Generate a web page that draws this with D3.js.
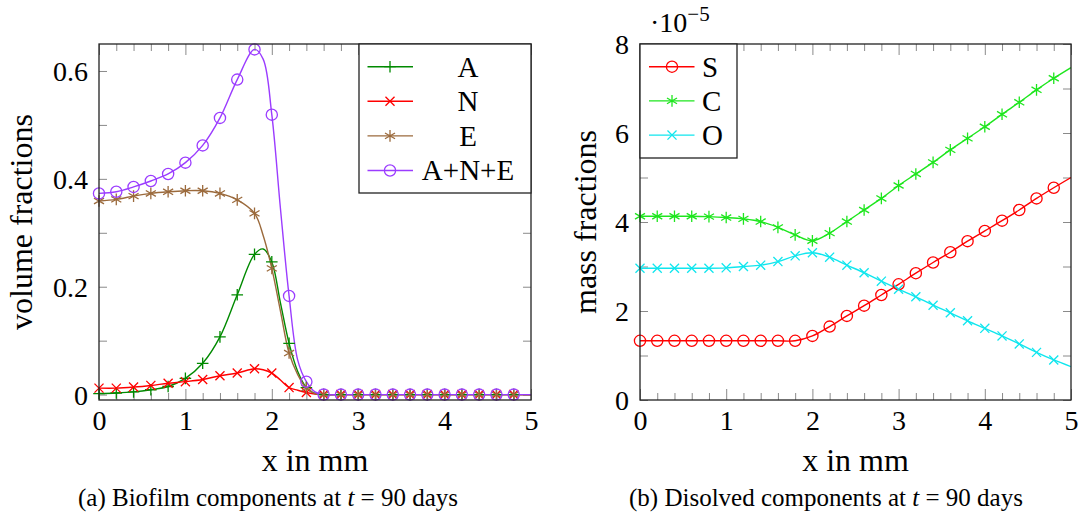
<!DOCTYPE html>
<html><head><meta charset="utf-8">
<script src="https://cdn.jsdelivr.net/npm/d3@7"></script>
<style>
body{margin:0;background:#fff}
text{font-family:"Liberation Serif","Times New Roman",serif;fill:#000}
</style>
</head><body>
<svg id="c" width="1081" height="520"></svg>
<script>
// ---------- data: (a) biofilm components ----------
const xLeft   = [0,0.2,0.4,0.6,0.8,1.0,1.2,1.4,1.6,1.8,1.9,2.0,2.1,2.2,2.3,2.4,2.5,2.6,2.8,3.0,3.2,3.4,3.6,3.8,4.0,4.2,4.4,4.6,4.8,5.0];
const valuesA = [0.002,0.003,0.005,0.009,0.015,0.030,0.058,0.107,0.185,0.260,0.270,0.246,0.170,0.095,0.043,0.013,0.002,0,0,0,0,0,0,0,0,0,0,0,0,0];
const valuesN = [0.012,0.012,0.014,0.017,0.021,0.024,0.028,0.035,0.040,0.048,0.046,0.040,0.027,0.013,0.008,0.004,0.001,0,0,0,0,0,0,0,0,0,0,0,0,0];
const valuesE = [0.359,0.362,0.368,0.373,0.376,0.378,0.378,0.373,0.361,0.336,0.295,0.234,0.155,0.077,0.037,0.012,0.002,0,0,0,0,0,0,0,0,0,0,0,0,0];
const valuesANE = [0.373,0.376,0.385,0.396,0.409,0.430,0.462,0.513,0.584,0.640,0.622,0.519,0.345,0.183,0.064,0.024,0.005,0,0,0,0,0,0,0,0,0,0,0,0,0];
const namesLeft = ["A","N","E","A+N+E"];

// ---------- data: (b) dissolved components (units of 1e-5) ----------
const xRight  = [0,0.2,0.4,0.6,0.8,1.0,1.2,1.4,1.6,1.8,2.0,2.2,2.4,2.6,2.8,3.0,3.2,3.4,3.6,3.8,4.0,4.2,4.4,4.6,4.8,5.0];
const valuesS = [1.33,1.33,1.33,1.33,1.33,1.33,1.33,1.33,1.33,1.33,1.44,1.65,1.89,2.12,2.36,2.60,2.85,3.09,3.32,3.57,3.80,4.03,4.27,4.53,4.77,5.00];
const valuesC = [4.13,4.13,4.13,4.13,4.12,4.10,4.07,4.01,3.88,3.71,3.58,3.75,4.01,4.27,4.53,4.82,5.08,5.34,5.62,5.88,6.14,6.42,6.69,6.97,7.23,7.47];
const valuesO = [2.96,2.96,2.96,2.96,2.96,2.97,3.00,3.03,3.11,3.24,3.31,3.21,3.03,2.86,2.67,2.49,2.32,2.13,1.96,1.78,1.61,1.44,1.26,1.07,0.90,0.75];
const namesRight = ["S","C","O"];

// ---------- ticks & labels ----------
const xTicks = [0,1,2,3,4,5];
const xMinorTicks = [0.2,0.4,0.6,0.8,1.2,1.4,1.6,1.8,2.2,2.4,2.6,2.8,3.2,3.4,3.6,3.8,4.2,4.4,4.6,4.8];
const yTicksLeft = [0,0.2,0.4,0.6];
const yMinorLeft = [0.1,0.3,0.5];
const yTicksRight = [0,2,4,6,8];
const yMinorRight = [1,3,5,7];
const xLabel = "x in mm";
const yLabelLeft = "volume fractions";
const yLabelRight = "mass fractions";

const svg = d3.select("#c");
const TICKC = "#8a8a8a";
const SERIF = '"Liberation Serif","Times New Roman",serif';

function markerPath(type, s){
  if(type==="plus") return `M${-s},0H${s}M0,${-s}V${s}`;
  if(type==="cross"){const c=s*0.78;return `M${-c},${-c}L${c},${c}M${-c},${c}L${c},${-c}`;}
  if(type==="star"){
    let p="";for(const a of [90,30,150]){const r=a*Math.PI/180,dx=Math.cos(r)*s,dy=Math.sin(r)*s;p+=`M${-dx},${-dy}L${dx},${dy}`;}
    return p;
  }
  return null;
}
function drawMarker(g, type, x, y, color, s){
  if(type==="circle"){
    g.append("circle").attr("cx",x).attr("cy",y).attr("r",s).attr("fill","none").attr("stroke",color).attr("stroke-width",1.3);
  } else {
    g.append("path").attr("transform",`translate(${x},${y})`).attr("d",markerPath(type,s)).attr("fill","none").attr("stroke",color).attr("stroke-width",1.3);
  }
}
const isMark = x => Math.abs(x*5-Math.round(x*5))<1e-6 && x<4.9;

function panel(cfg){
  const {x0,x1,y0,y1,ydom,yMaj,yMin,yFmt,xs,series,ylabel,ylabelX} = cfg;
  const x = d3.scaleLinear().domain([0,5]).range([x0,x1]);
  const y = d3.scaleLinear().domain(ydom).range([y1,y0]);
  const g = svg.append("g");

  const tk = (axis, tr, vals, size, labels, pad) => {
    const a = g.append("g").attr("transform",tr).call(axis.tickValues(vals).tickSizeInner(-size).tickSizeOuter(0).tickPadding(pad||0).tickFormat(labels||(()=>"")));
    a.attr("font-family",SERIF).attr("font-size",28);
    a.select(".domain").remove();
    a.selectAll(".tick line").attr("stroke",TICKC).attr("stroke-width",1);
    a.selectAll(".tick text").style("font-family",SERIF).style("font-size","28px").attr("fill","#000");
    return a;
  };
  tk(d3.axisBottom(x), `translate(0,${y1})`, xMinorTicks, 7);
  tk(d3.axisTop(x), `translate(0,${y0})`, xMinorTicks, 7);
  tk(d3.axisTop(x), `translate(0,${y0})`, xTicks, 11);
  tk(d3.axisRight(y), `translate(${x1},0)`, yMin, 8);
  tk(d3.axisRight(y), `translate(${x1},0)`, yMaj, 8);
  tk(d3.axisLeft(y), `translate(${x0},0)`, yMin, 8);
  const bx = tk(d3.axisBottom(x), `translate(0,${y1})`, xTicks, 11, d=>String(d), 9);
  bx.selectAll(".tick text").attr("dy","0.75em");
  const ly = tk(d3.axisLeft(y), `translate(${x0},0)`, yMaj, 8, yFmt, 11);
  ly.selectAll(".tick text").attr("dy","0.34em");

  const clipId = "clip"+x0;
  svg.append("clipPath").attr("id",clipId).append("rect").attr("x",x0).attr("y",y0).attr("width",x1-x0).attr("height",y1-y0);
  const line = d3.line().x(d=>x(d[0])).y(d=>y(d[1])).curve(d3.curveCatmullRom.alpha(0.5));
  for(const s of series){
    const pts = xs.map((xv,i)=>[xv,s.values[i]]);
    g.append("path").attr("d",line(pts)).attr("fill","none").attr("stroke",s.color).attr("stroke-width",1.4).attr("clip-path",`url(#${clipId})`);
  }
  for(const s of series){
    const mg = g.append("g");
    xs.forEach((xv,i)=>{ if(isMark(xv)) drawMarker(mg, s.marker, x(xv), y(s.values[i]), s.color, s.size); });
  }

  g.append("rect").attr("x",x0).attr("y",y0).attr("width",x1-x0).attr("height",y1-y0).attr("fill","none").attr("stroke","#222").attr("stroke-width",1.3);

  svg.append("text").attr("x",(x0+x1)/2).attr("y",471).attr("text-anchor","middle").style("font-size","32px").text(xLabel);
  svg.append("text").attr("transform",`translate(${ylabelX},${(y0+y1)/2}) rotate(-90)`).attr("text-anchor","middle").style("font-size","32px").text(ylabel);
  return {x,y,g};
}

// ---------- panel (a) ----------
const colA="#008a00", colN="#ff0000", colE="#9b6a3c", colANE="#9b3cff";
const leftSeries = [
  {values:valuesA, color:colA, marker:"plus", size:5.8},
  {values:valuesN, color:colN, marker:"cross", size:5.8},
  {values:valuesE, color:colE, marker:"star", size:5.8},
  {values:valuesANE, color:colANE, marker:"circle", size:5.6}
];
panel({x0:99,x1:531,y0:44,y1:400,ydom:[-0.01,0.65],yMaj:yTicksLeft,yMin:yMinorLeft,
  yFmt:d=>d===0?"0":d3.format(".1f")(d), xs:xLeft, series:leftSeries, ylabel:yLabelLeft, ylabelX:32});

// legend (a)
{
  const lg = svg.append("g");
  lg.append("rect").attr("x",359).attr("y",44).attr("width",172).attr("height",149).attr("fill","#fff").attr("stroke","#222").attr("stroke-width",1.3);
  leftSeries.forEach((s,i)=>{
    const cy = 66.7 + i*34.6;
    lg.append("line").attr("x1",367.5).attr("x2",413).attr("y1",cy).attr("y2",cy).attr("stroke",s.color).attr("stroke-width",1.4);
    drawMarker(lg, s.marker, 390, cy, s.color, s.size);
    lg.append("text").attr("x",468).attr("y",cy).attr("dy","0.34em").attr("text-anchor","middle").style("font-size","29px").text(namesLeft[i]);
  });
}

// ---------- panel (b) ----------
const colS="#ff0000", colC="#1ee61e", colO="#10e6ee";
const rightSeries = [
  {values:valuesS, color:colS, marker:"circle", size:5.6},
  {values:valuesC, color:colC, marker:"star", size:5.8},
  {values:valuesO, color:colO, marker:"cross", size:5.8}
];
panel({x0:640,x1:1071,y0:44,y1:400,ydom:[0,8],yMaj:yTicksRight,yMin:yMinorRight,
  yFmt:d=>String(d), xs:xRight, series:rightSeries, ylabel:yLabelRight, ylabelX:596});

// exponent label
{
  const t = svg.append("text").attr("x",650).attr("y",32).style("font-size","28px");
  t.append("tspan").text("·10");
  t.append("tspan").attr("dy",-11).style("font-size","21px").text("−5");
}

// legend (b)
{
  const lg = svg.append("g");
  lg.append("rect").attr("x",640).attr("y",44).attr("width",97).attr("height",114).attr("fill","#fff").attr("stroke","#222").attr("stroke-width",1.3);
  rightSeries.forEach((s,i)=>{
    const cy = 66.7 + i*34.2;
    lg.append("line").attr("x1",649).attr("x2",694.5).attr("y1",cy).attr("y2",cy).attr("stroke",s.color).attr("stroke-width",1.4);
    drawMarker(lg, s.marker, 672, cy, s.color, s.size);
    lg.append("text").attr("x",702).attr("y",cy).attr("dy","0.34em").style("font-size","29px").text(namesRight[i]);
  });
}

// captions
function caption(cx, label, pre){
  const t = svg.append("text").attr("x",cx).attr("y",506).attr("text-anchor","middle").style("font-size","25px");
  t.append("tspan").text(`(${label}) ${pre} at `);
  t.append("tspan").style("font-style","italic").text("t");
  t.append("tspan").text(" = 90 days");
}
caption(268,"a","Biofilm components");
caption(826,"b","Disolved components");
</script>
</body></html>
